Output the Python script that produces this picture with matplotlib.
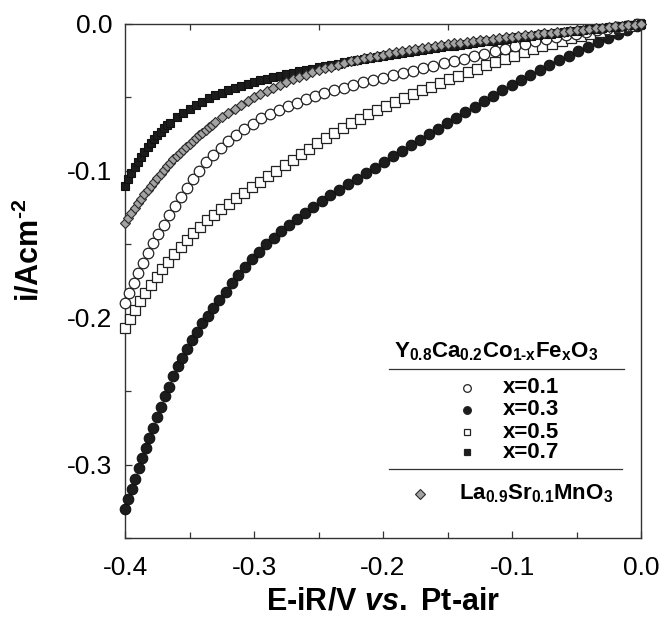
import numpy as np
import matplotlib
matplotlib.use("Agg")
import matplotlib.pyplot as plt
from matplotlib.ticker import MultipleLocator, FormatStrFormatter

plt.rcParams['font.family'] = 'Liberation Sans'
plt.rcParams['axes.unicode_minus'] = False
plt.rcParams['mathtext.fontset'] = 'custom'
plt.rcParams['mathtext.rm'] = 'Liberation Sans:bold'
plt.rcParams['mathtext.bf'] = 'Liberation Sans:bold'
plt.rcParams['mathtext.it'] = 'Liberation Sans:italic:bold'

# Y0.8Ca0.2Co1-xFexO3, x = 0.1 (open circles)
x01_e = [-0.4000, -0.3966, -0.3932, -0.3896, -0.3859, -0.3821, -0.3782, -0.3742, -0.3701, -0.3659,
         -0.3615, -0.3570, -0.3523, -0.3474, -0.3423, -0.3370, -0.3315, -0.3258, -0.3199, -0.3138,
         -0.3075, -0.3010, -0.2944, -0.2877, -0.2809, -0.2740, -0.2670, -0.2599, -0.2527, -0.2454,
         -0.2380, -0.2305, -0.2229, -0.2153, -0.2076, -0.1999, -0.1921, -0.1843, -0.1765, -0.1687,
         -0.1609, -0.1530, -0.1451, -0.1372, -0.1293, -0.1214, -0.1135, -0.1056, -0.0977, -0.0898,
         -0.0819, -0.0740, -0.0661, -0.0582, -0.0503, -0.0424, -0.0345, -0.0266, -0.0187, -0.0108, -0.0029]
x01_i = [-0.1900, -0.1832, -0.1766, -0.1698, -0.1630, -0.1562, -0.1494, -0.1429, -0.1367, -0.1304,
         -0.1240, -0.1177, -0.1116, -0.1056, -0.0998, -0.0942, -0.0891, -0.0842, -0.0795, -0.0754,
         -0.0715, -0.0678, -0.0643, -0.0613, -0.0585, -0.0559, -0.0535, -0.0513, -0.0492, -0.0472,
         -0.0452, -0.0433, -0.0415, -0.0398, -0.0381, -0.0365, -0.0348, -0.0333, -0.0317, -0.0301,
         -0.0286, -0.0269, -0.0253, -0.0236, -0.0219, -0.0202, -0.0185, -0.0167, -0.0150, -0.0135,
         -0.0118, -0.0104, -0.0090, -0.0077, -0.0065, -0.0053, -0.0043, -0.0032, -0.0022, -0.0013, -0.0003]

# x = 0.3 (filled circles)
x03_e = [-0.4000, -0.3974, -0.3948, -0.3921, -0.3894, -0.3867, -0.3839, -0.3811, -0.3782, -0.3752,
         -0.3722, -0.3691, -0.3659, -0.3626, -0.3592, -0.3557, -0.3521, -0.3483, -0.3444, -0.3403,
         -0.3360, -0.3315, -0.3268, -0.3220, -0.3171, -0.3121, -0.3069, -0.3016, -0.2962, -0.2906,
         -0.2849, -0.2791, -0.2731, -0.2670, -0.2607, -0.2542, -0.2476, -0.2409, -0.2341, -0.2272,
         -0.2203, -0.2134, -0.2064, -0.1994, -0.1924, -0.1854, -0.1784, -0.1714, -0.1644, -0.1574,
         -0.1503, -0.1432, -0.1361, -0.1290, -0.1219, -0.1147, -0.1075, -0.1003, -0.0930, -0.0857,
         -0.0784, -0.0710, -0.0636, -0.0561, -0.0486, -0.0410, -0.0334, -0.0258, -0.0182, -0.0106, -0.0030]
x03_i = [-0.3300, -0.3232, -0.3165, -0.3095, -0.3025, -0.2957, -0.2888, -0.2818, -0.2748, -0.2677,
         -0.2607, -0.2536, -0.2469, -0.2400, -0.2331, -0.2272, -0.2211, -0.2151, -0.2097, -0.2039,
         -0.1987, -0.1933, -0.1877, -0.1823, -0.1767, -0.1709, -0.1654, -0.1601, -0.1551, -0.1500,
         -0.1454, -0.1409, -0.1367, -0.1326, -0.1285, -0.1245, -0.1206, -0.1167, -0.1129, -0.1091,
         -0.1053, -0.1015, -0.0978, -0.0940, -0.0902, -0.0864, -0.0826, -0.0789, -0.0751, -0.0713,
         -0.0675, -0.0637, -0.0599, -0.0562, -0.0525, -0.0488, -0.0452, -0.0416, -0.0381, -0.0346,
         -0.0312, -0.0279, -0.0247, -0.0215, -0.0184, -0.0154, -0.0124, -0.0095, -0.0067, -0.0039, -0.0011]

# x = 0.5 (open squares)
x05_e = [-0.4000, -0.3963, -0.3924, -0.3884, -0.3843, -0.3800, -0.3756, -0.3711, -0.3665, -0.3618,
         -0.3570, -0.3521, -0.3471, -0.3419, -0.3366, -0.3311, -0.3254, -0.3196, -0.3137, -0.3077,
         -0.3015, -0.2952, -0.2889, -0.2826, -0.2763, -0.2700, -0.2637, -0.2573, -0.2509, -0.2445,
         -0.2380, -0.2314, -0.2247, -0.2180, -0.2113, -0.2045, -0.1977, -0.1908, -0.1839, -0.1770,
         -0.1700, -0.1630, -0.1559, -0.1488, -0.1417, -0.1345, -0.1273, -0.1201, -0.1129, -0.1056,
         -0.0983, -0.0910, -0.0837, -0.0764, -0.0690, -0.0616, -0.0542, -0.0468, -0.0394, -0.0319,
         -0.0244, -0.0169, -0.0094, -0.0019]
x05_i = [-0.2070, -0.2011, -0.1948, -0.1888, -0.1833, -0.1775, -0.1723, -0.1670, -0.1619, -0.1568,
         -0.1520, -0.1472, -0.1425, -0.1380, -0.1338, -0.1298, -0.1260, -0.1223, -0.1186, -0.1149,
         -0.1112, -0.1074, -0.1036, -0.0999, -0.0961, -0.0923, -0.0886, -0.0848, -0.0811, -0.0775,
         -0.0740, -0.0707, -0.0676, -0.0645, -0.0616, -0.0587, -0.0559, -0.0530, -0.0503, -0.0477,
         -0.0451, -0.0426, -0.0401, -0.0376, -0.0352, -0.0328, -0.0304, -0.0281, -0.0259, -0.0237,
         -0.0215, -0.0194, -0.0173, -0.0153, -0.0134, -0.0115, -0.0098, -0.0081, -0.0066, -0.0052,
         -0.0038, -0.0025, -0.0013, -0.0003]

# x = 0.7 (filled squares)
x07_e = [-0.4000, -0.3975, -0.3950, -0.3925, -0.3900, -0.3875, -0.3850, -0.3825, -0.3800, -0.3775,
         -0.3750, -0.3725, -0.3700, -0.3675, -0.3650,
         -0.360, -0.355, -0.350, -0.345, -0.340, -0.335, -0.330, -0.325, -0.320, -0.315,
         -0.310, -0.305, -0.300, -0.295, -0.290, -0.285, -0.280, -0.275, -0.270, -0.265,
         -0.260, -0.255, -0.250, -0.245, -0.240, -0.235, -0.230, -0.225, -0.220, -0.215,
         -0.210, -0.205, -0.200, -0.195, -0.190, -0.185, -0.180, -0.175, -0.170, -0.165,
         -0.160, -0.155, -0.150, -0.145, -0.140, -0.135, -0.130, -0.125, -0.120, -0.115,
         -0.110, -0.105, -0.100, -0.095, -0.090, -0.085, -0.080, -0.075, -0.070, -0.065,
         -0.060, -0.055, -0.050, -0.045, -0.040, -0.035, -0.030, -0.025, -0.020, -0.015,
         -0.010, -0.005, 0.000]
x07_i = [-0.1100, -0.1057, -0.1015, -0.0976, -0.0938, -0.0903, -0.0870, -0.0839, -0.0810, -0.0783,
         -0.0757, -0.0734, -0.0711, -0.0690, -0.0671,
         -0.0636, -0.0605, -0.0577, -0.0551, -0.0528, -0.0507, -0.0487, -0.0469, -0.0452, -0.0436,
         -0.0422, -0.0409, -0.0396, -0.0384, -0.0373, -0.0362, -0.0352, -0.0342, -0.0332, -0.0322,
         -0.0313, -0.0304, -0.0295, -0.0286, -0.0278, -0.0270, -0.0262, -0.0254, -0.0246, -0.0239,
         -0.0231, -0.0224, -0.0217, -0.0210, -0.0203, -0.0197, -0.0190, -0.0184, -0.0177, -0.0171,
         -0.0165, -0.0159, -0.0153, -0.0147, -0.0141, -0.0135, -0.0130, -0.0124, -0.0118, -0.0113,
         -0.0107, -0.0102, -0.0096, -0.0091, -0.0086, -0.0080, -0.0075, -0.0070, -0.0065, -0.0060,
         -0.0055, -0.0050, -0.0045, -0.0041, -0.0036, -0.0032, -0.0027, -0.0023, -0.0018, -0.0014,
         -0.0009, -0.0005, 0.0000]

# La0.9Sr0.1MnO3 (grey diamonds)
lsm_e = [-0.4000, -0.3975, -0.3950, -0.3925, -0.3900, -0.3875, -0.3850, -0.3825, -0.3800, -0.3775,
         -0.3750, -0.3725, -0.3700, -0.3675, -0.3650, -0.3625, -0.3600, -0.3575, -0.3550, -0.3525,
         -0.3500, -0.3475, -0.3450, -0.3425, -0.3400, -0.3375, -0.3350, -0.3325, -0.3300,
         -0.325, -0.320, -0.315, -0.310, -0.305, -0.300, -0.295, -0.290, -0.285, -0.280,
         -0.275, -0.270, -0.265, -0.260, -0.255, -0.250, -0.245, -0.240, -0.235, -0.230,
         -0.225, -0.220, -0.215, -0.210, -0.205, -0.200, -0.195, -0.190, -0.185, -0.180,
         -0.175, -0.170, -0.165, -0.160, -0.155, -0.150, -0.145, -0.140, -0.135, -0.130,
         -0.125, -0.120, -0.115, -0.110, -0.105, -0.100, -0.095, -0.090, -0.085, -0.080,
         -0.075, -0.070, -0.065, -0.060, -0.055, -0.050, -0.045, -0.040, -0.035, -0.030,
         -0.025, -0.020, -0.015, -0.010, -0.005, 0.000]
lsm_i = [-0.1357, -0.1322, -0.1287, -0.1254, -0.1221, -0.1190, -0.1159, -0.1130, -0.1101, -0.1073,
         -0.1046, -0.1020, -0.0994, -0.0969, -0.0945, -0.0922, -0.0899, -0.0877, -0.0856, -0.0835,
         -0.0815, -0.0795, -0.0776, -0.0757, -0.0739, -0.0721, -0.0703, -0.0686, -0.0669,
         -0.0636, -0.0605, -0.0576, -0.0549, -0.0524, -0.0500, -0.0477, -0.0455, -0.0434, -0.0414,
         -0.0395, -0.0377, -0.0361, -0.0345, -0.0330, -0.0316, -0.0303, -0.0290, -0.0278, -0.0266,
         -0.0255, -0.0244, -0.0234, -0.0225, -0.0216, -0.0208, -0.0200, -0.0192, -0.0184, -0.0177,
         -0.0170, -0.0163, -0.0156, -0.0150, -0.0144, -0.0138, -0.0132, -0.0127, -0.0121, -0.0116,
         -0.0111, -0.0106, -0.0101, -0.0096, -0.0091, -0.0087, -0.0082, -0.0078, -0.0073, -0.0069,
         -0.0064, -0.0060, -0.0056, -0.0052, -0.0047, -0.0043, -0.0039, -0.0035, -0.0030, -0.0026,
         -0.0022, -0.0017, -0.0013, -0.0009, -0.0004, 0.0000]

x_labels = ['x=0.1', 'x=0.3', 'x=0.5', 'x=0.7']

dark = '#1c1c1c'
edge = '#222222'
grey = '#a3a3a3'

fig = plt.figure(figsize=(6.64, 6.26), dpi=100)
ax = fig.add_axes([0.1883, 0.1406, 0.7771, 0.8211])

ax.plot(x03_e, x03_i, 'o', ms=7.6, mfc=dark, mec='#111111', mew=0.8, clip_on=False, zorder=3)
ax.plot(x05_e, x05_i, 's', ms=6.6, mfc='white', mec=edge, mew=0.9, clip_on=False, zorder=4)
ax.plot(x01_e, x01_i, 'o', ms=7.6, mfc='white', mec=edge, mew=0.9, clip_on=False, zorder=5)
ax.plot(x07_e, x07_i, 's', ms=6.2, mfc=dark, mec='#111111', mew=0.8, clip_on=False, zorder=6)
ax.plot(lsm_e, lsm_i, 'D', ms=5.3, mfc=grey, mec='#2a2a2a', mew=0.8, clip_on=False, zorder=7)

ax.set_xlim(-0.4, 0.0)
ax.set_ylim(-0.35, 0.0)
ax.xaxis.set_major_locator(MultipleLocator(0.1))
ax.xaxis.set_minor_locator(MultipleLocator(0.05))
ax.yaxis.set_major_locator(MultipleLocator(0.1))
ax.yaxis.set_minor_locator(MultipleLocator(0.05))
ax.xaxis.set_major_formatter(FormatStrFormatter('%.1f'))
ax.yaxis.set_major_formatter(FormatStrFormatter('%.1f'))

ax.tick_params(which='both', direction='in', top=False, right=False, width=0.9, colors='#333333',
               labelcolor='black', labelsize=19)
ax.tick_params(which='major', length=5)
ax.tick_params(which='minor', length=4)
ax.tick_params(axis='x', which='minor', top=True)
ax.tick_params(axis='x', which='major', pad=13)
ax.tick_params(axis='y', which='major', pad=9)
for s in ax.spines.values():
    s.set_color('#333333')
    s.set_linewidth(1.0)

fig.text(383 / 664, 1 - 601 / 626, r'E-iR/V $\mathit{vs.}$ Pt-air', fontsize=22, fontweight='bold',
         ha='center', va='center')
fig.text(30 / 664, 1 - 250 / 626, 'i/Acm$\\mathregular{^{\u2010 2}}$'.replace(' ', ''), fontsize=22,
         fontweight='bold', rotation=90, ha='center', va='center')

# legend drawn by hand: composition header, rule, four entries, rule, LSM entry
ax.text(0.719, 0.352, '$\\mathregular{Y_{0.8}Ca_{0.2}Co_{1\u2010x}Fe_{x}O_{3}}$', transform=ax.transAxes,
        fontsize=16, fontweight='bold', ha='center', va='baseline')
ax.plot([0.512, 0.967], [0.329, 0.329], transform=ax.transAxes, color='#333333', lw=0.9, clip_on=False)
leg_y = [0.292, 0.249, 0.206, 0.167]
leg_style = [dict(marker='o', mfc='white', ms=5.5), dict(marker='o', mfc=dark, ms=5.5),
             dict(marker='s', mfc='white', ms=5.0), dict(marker='s', mfc=dark, ms=5.0)]
for y, lab, st in zip(leg_y, x_labels, leg_style):
    ax.plot([0.663], [y], ls='none', mec=edge, mew=0.9, transform=ax.transAxes, clip_on=False, **st)
    ax.text(0.733, y, lab, transform=ax.transAxes, fontsize=16, fontweight='bold', ha='left', va='center')
ax.plot([0.512, 0.963], [0.134, 0.134], transform=ax.transAxes, color='#333333', lw=0.9, clip_on=False)
ax.plot([0.572], [0.0856], 'D', ms=5.0, mfc=grey, mec='#2a2a2a', mew=0.8,
        transform=ax.transAxes, clip_on=False)
ax.text(0.647, 0.0856, r'La$\mathregular{_{0.9}}$Sr$\mathregular{_{0.1}}$MnO$\mathregular{_3}$',
        transform=ax.transAxes, fontsize=16, fontweight='bold', ha='left', va='center')

fig.savefig('out.png', dpi=100)
plt.close(fig)
